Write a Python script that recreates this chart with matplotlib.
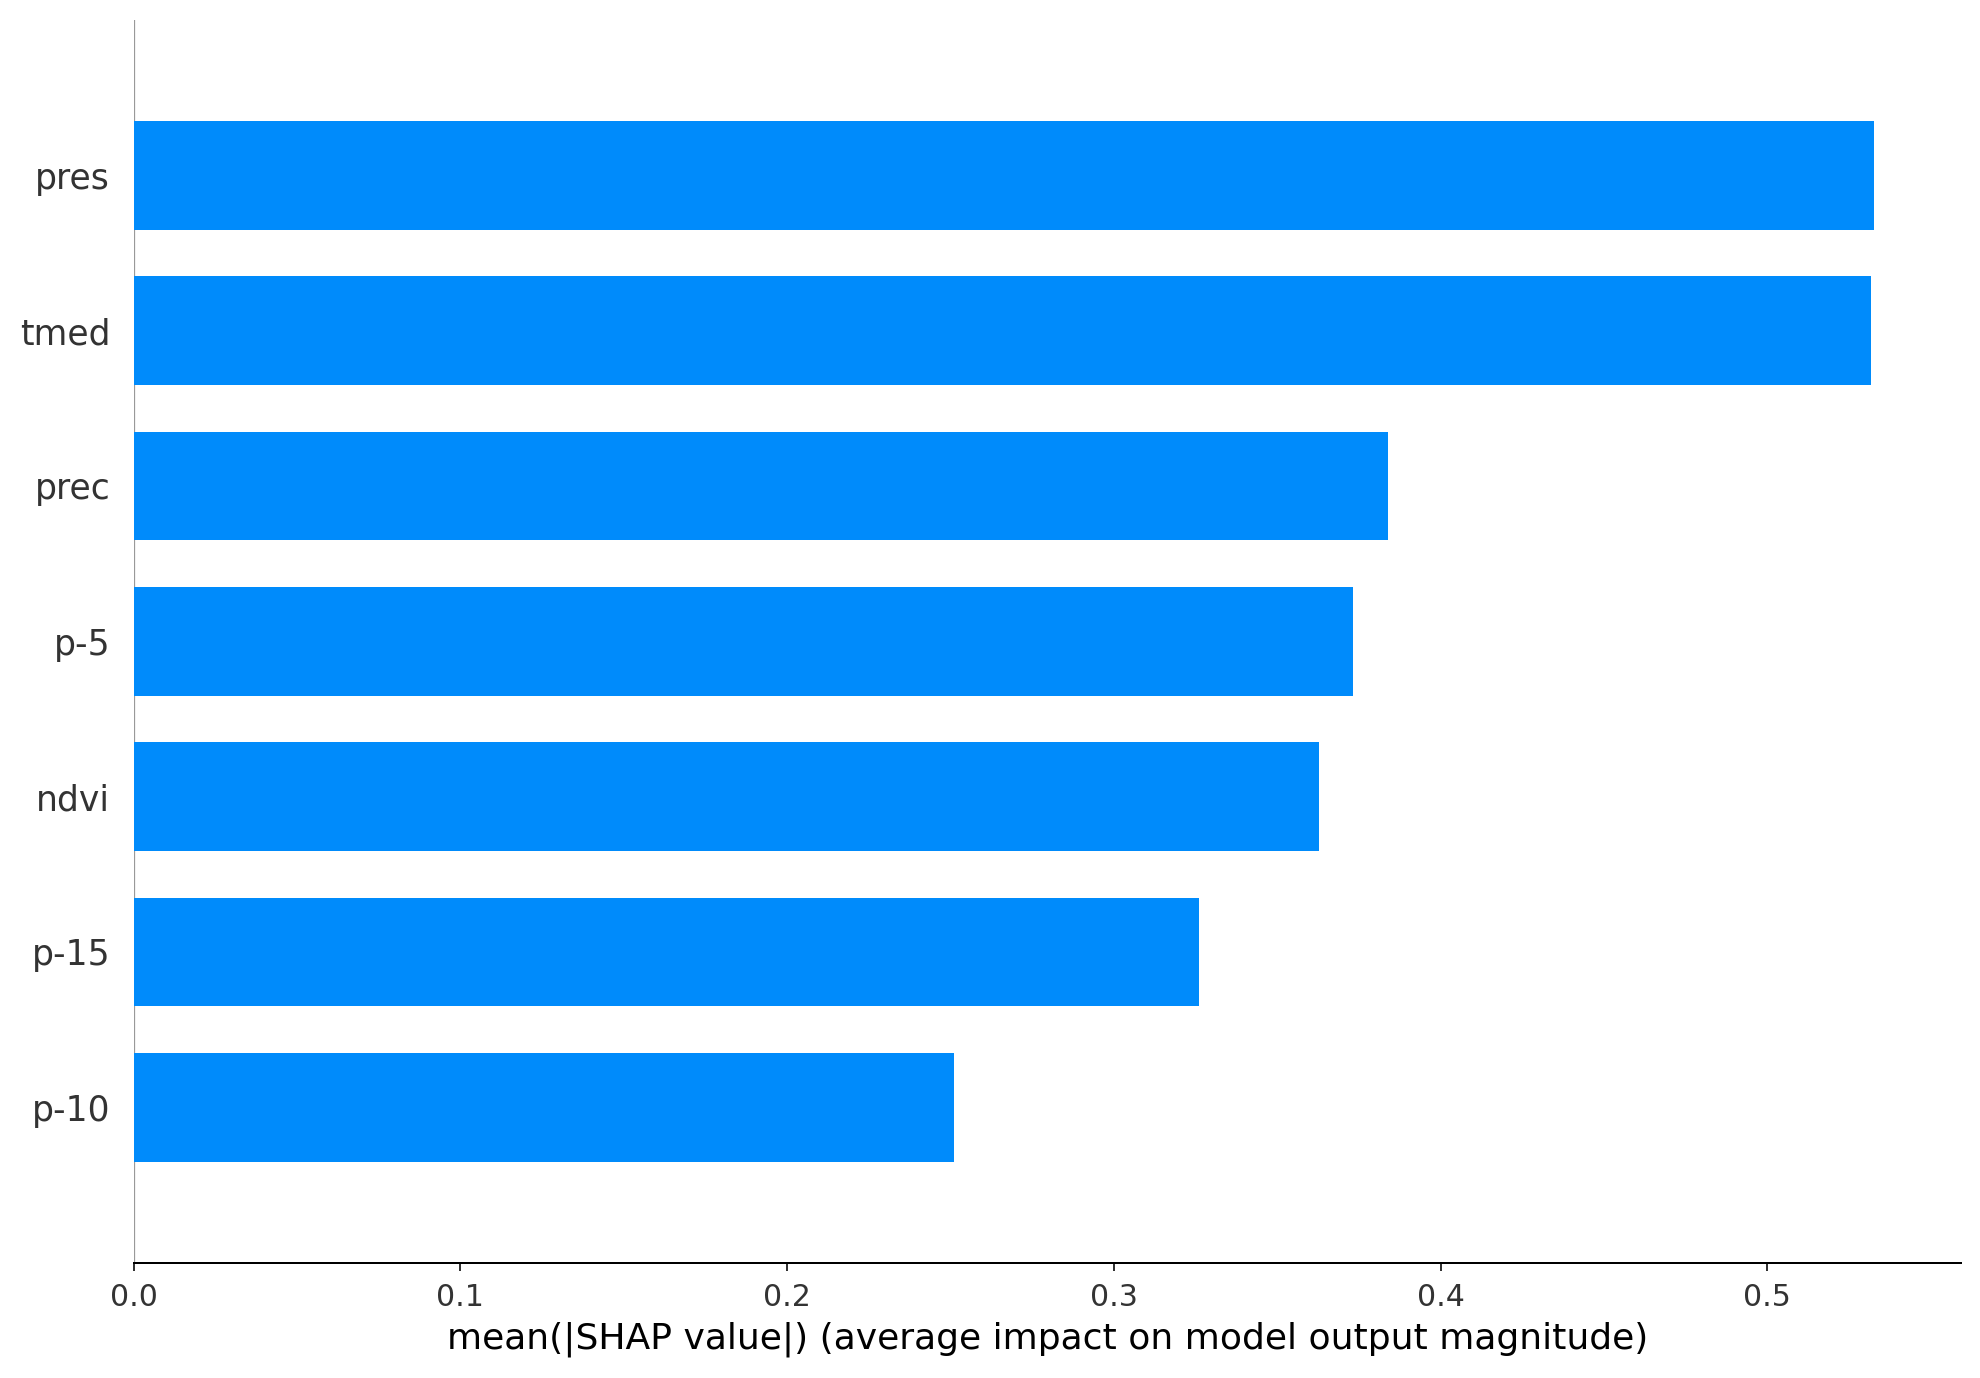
import numpy as np
import matplotlib

matplotlib.use("Agg")
import matplotlib.pyplot as plt

BLUE = "#008bfb"
AXIS = "#333333"

# features ordered top to bottom
features = ["pres", "tmed", "prec", "p-5", "ndvi", "p-15", "p-10"]
mean_abs_shap = [0.5326, 0.5316, 0.3840, 0.3733, 0.3629, 0.3262, 0.2512]

fig = plt.figure(figsize=(11.0, 7.6556), dpi=180)
ax = fig.add_axes([0.0675, 0.0838, 0.9228, 0.9017])

y_pos = np.arange(len(features))[::-1]
ax.barh(y_pos, mean_abs_shap, 0.7, align="center", color=BLUE)
ax.axvline(0, color="#999999", linewidth=0.9, zorder=-1)

ax.set_ylim(-1, len(features))
ax.set_yticks(y_pos)
ax.set_yticklabels(features, fontsize=13.85)

ax.spines["right"].set_visible(False)
ax.spines["top"].set_visible(False)
ax.spines["left"].set_visible(False)
ax.xaxis.set_ticks_position("bottom")
ax.tick_params("y", length=0, pad=9.4)
ax.tick_params("x", labelsize=12, length=3.2, pad=5.0)
ax.tick_params(color=AXIS, labelcolor=AXIS)
ax.set_xlabel("mean(|SHAP value|) (average impact on model output magnitude)",
              fontsize=14.45, labelpad=3.6)

fig.savefig("out.png", dpi=180)
plt.close(fig)
